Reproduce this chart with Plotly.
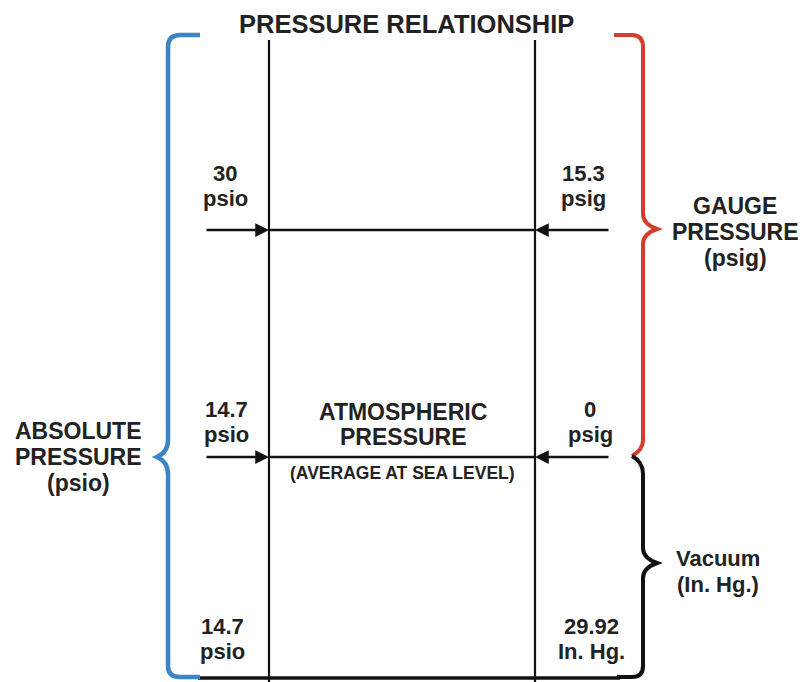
import plotly.graph_objects as go

# ---- data ----
title_text = "PRESSURE RELATIONSHIP"
left_values = ["30", "14.7", "14.7"]
left_units = ["psio", "psio", "psio"]
right_values = ["15.3", "0", "29.92"]
right_units = ["psig", "psig", "In. Hg."]
center_label = ["ATMOSPHERIC", "PRESSURE"]
center_note = "(AVERAGE AT SEA LEVEL)"
absolute_label = ["ABSOLUTE", "PRESSURE", "(psio)"]
gauge_label = ["GAUGE", "PRESSURE", "(psig)"]
vacuum_label = ["Vacuum", "(In. Hg.)"]

# ---- layout geometry (pixel space; page body has an 8px margin) ----
W, H = 808, 682
OFF = 8
level_y = [230, 457, 678]
col_left, col_right = 269, 535
arrow_left_start, arrow_right_start = 205, 610
left_text_x = [225, 226, 222]
right_text_x = [583, 590, 591]
label_top = [-57, -48, -52]
LINE = 25

BLUE = "#3b84c6"
RED = "#d43d2b"
BLACK = "#111111"
TXT = "#222222"
FONT = "Liberation Sans"

fig = go.Figure()
fig.add_trace(go.Scatter(x=[OFF, W], y=[OFF, H], mode="markers", marker=dict(opacity=0),
                         hoverinfo="skip", showlegend=False))

shapes = []
annotations = []

# vertical column lines
for cx in (col_left, col_right):
    shapes.append(dict(type="line", x0=cx, x1=cx, y0=40, y1=H, line=dict(color=BLACK, width=2.2)))

# horizontal level lines and arrows
for i, ly in enumerate(level_y):
    if i < 2:
        shapes.append(dict(type="line", x0=col_left, x1=col_right, y0=ly, y1=ly, line=dict(color=BLACK, width=2.5)))
        for tip, start in ((col_left, arrow_left_start), (col_right, arrow_right_start)):
            annotations.append(dict(x=tip, y=ly, ax=start, ay=ly, axref="x", ayref="y", xref="x", yref="y",
                                    showarrow=True, arrowhead=2, arrowsize=1.1, arrowwidth=2.5,
                                    arrowcolor=BLACK, standoff=0, text=""))
    else:
        shapes.append(dict(type="line", x0=198, x1=620, y0=ly, y1=ly, line=dict(color=BLACK, width=3.5)))

# braces
blue_path = ("M 200 35 L 180 35 Q 168 35 168 47 L 168 440 Q 168 452 157 457 "
             "Q 168 462 168 474 L 168 666 Q 168 677 180 677 L 200 677")
red_path = ("M 614 35 L 632 35 Q 643 35 643 47 L 643 214 Q 643 224 657 229 "
            "Q 643 234 643 244 L 643 440 Q 643 450 632 456")
black_path = ("M 632 456 Q 643 462 643 474 L 643 548 Q 643 558 657 563 "
              "Q 643 568 643 578 L 643 666 Q 643 677 632 677 L 617 677")
shapes.append(dict(type="path", path=blue_path, line=dict(color=BLUE, width=4.5)))
shapes.append(dict(type="path", path=red_path, line=dict(color=RED, width=4)))
shapes.append(dict(type="path", path=black_path, line=dict(color=BLACK, width=4)))


def txt(x, y0, lines, size=22, step=LINE, bold=True):
    for k, s in enumerate(lines):
        t = "<b>" + s + "</b>" if bold else s
        annotations.append(dict(x=x, y=y0 + k * step, xref="x", yref="y", text=t, showarrow=False,
                                font=dict(family=FONT, size=size, color=TXT), align="center",
                                xanchor="center", yanchor="middle"))


txt(406, 24, [title_text], size=25.5)
for i, ly in enumerate(level_y):
    txt(left_text_x[i], ly + label_top[i], [left_values[i], left_units[i]], size=22)
    txt(right_text_x[i], ly + label_top[i], [right_values[i], right_units[i]], size=22)
txt(403, 412, center_label, size=23)
txt(402, 473, [center_note], size=17.5)
txt(78, 431, absolute_label, size=23, step=26)
txt(735, 206, gauge_label, size=23, step=26)
txt(718, 558, vacuum_label, size=22, step=26)

fig.update_layout(
    width=W - OFF, height=H - OFF, margin=dict(l=0, r=0, t=0, b=0),
    paper_bgcolor="white", plot_bgcolor="white",
    xaxis=dict(range=[OFF, W], visible=False, fixedrange=True),
    yaxis=dict(range=[H, OFF], visible=False, fixedrange=True),
    shapes=shapes, annotations=annotations, showlegend=False,
)
fig.write_html("out.html", config={"displayModeBar": False})
